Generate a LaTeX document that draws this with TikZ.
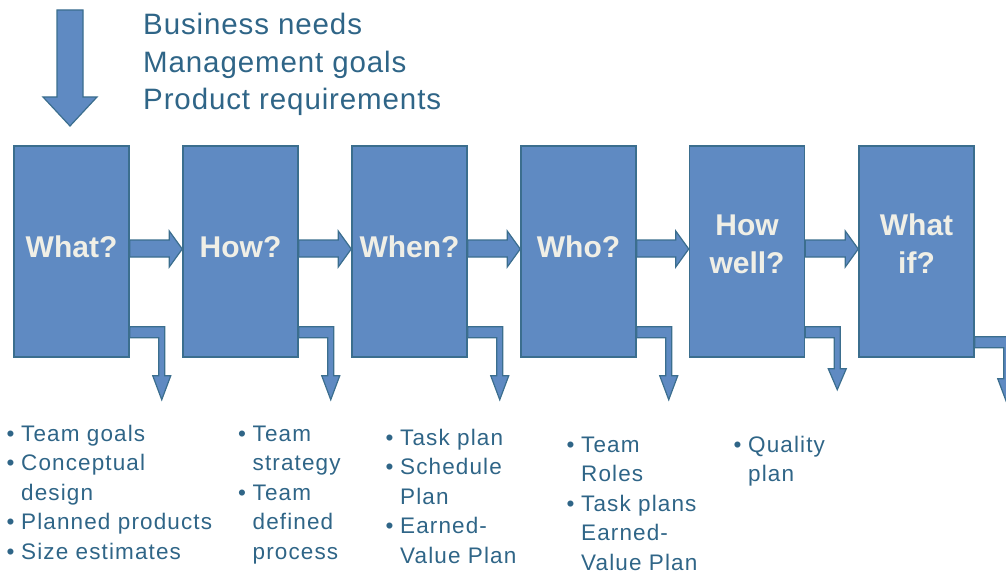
\documentclass[tikz,border=0pt]{standalone}
\usepackage{fontspec}
\setmainfont{Liberation Sans}
\newfontfamily\topfont[LetterSpace=3]{Liberation Sans}
\newfontfamily\listfont[LetterSpace=5]{Liberation Sans}
\usetikzlibrary{calc}
\definecolor{txt}{HTML}{2F6587}
\definecolor{boxfill}{HTML}{5F8AC2}
\definecolor{boxline}{HTML}{3B6E8E}
\definecolor{lbl}{HTML}{F0EFE6}
\newcommand\bul{\makebox[14.5pt][l]{•}}
\newcommand\ind{\hspace*{14.5pt}}
% block arrow from one stage to the next
\newcommand\hblockarrow[2]{%
  \filldraw[blockarrow] ($(#1.east)+(0,-11.5)$) -- ($(#2.west)+(-13,-11.5)$)
    -- ($(#2.west)+(-13,-20.5)$) -- ($(#2.west)+(0,-2.5)$)
    -- ($(#2.west)+(-13,15.5)$) -- ($(#2.west)+(-13,5.5)$)
    -- ($(#1.east)+(0,5.5)$) -- cycle;}
% bent arrow out of the lower right of a stage
\newcommand\elbowarrow[4]{%
  \filldraw[blockarrow] ($(#1.south east)+(0,#2)$) -- ($(#1.south east)+(35,#2)$)
    -- ($(#1.south east)+(35,#3)$) -- ($(#1.south east)+(41,#3)$)
    -- ($(#1.south east)+(32,#4)$) -- ($(#1.south east)+(23,#3)$)
    -- ($(#1.south east)+(29,#3)$) -- ($(#1.south east)+(29,#2+11)$)
    -- ($(#1.south east)+(0,#2+11)$) -- cycle;}
\begin{document}
\begin{tikzpicture}[x=1pt,y=-1pt,
  stage/.style={draw=boxline, fill=boxfill, line width=1.5pt,
    minimum width=115pt, minimum height=211pt, inner sep=0pt},
  stagelabel/.style={text=lbl, font=\fontsize{30}{38}\selectfont\bfseries,
    inner sep=0pt, anchor=base},
  blockarrow/.style={draw=boxline, fill=boxfill, line width=1.2pt, line join=miter},
  listtext/.style={text=txt, font=\listfont\fontsize{22.5}{29.5}\selectfont,
    inner sep=0pt, anchor=base west},
  toptext/.style={text=txt, font=\topfont\fontsize{29.5}{37.5}\selectfont,
    inner sep=0pt, anchor=base west}]
\useasboundingbox (0,0) rectangle (1006,575);
\clip (0,0) rectangle (1006,575);

% input arrow and text
\filldraw[blockarrow] (57,10) -- (83,10) -- (83,97) -- (97,97) -- (70,126)
  -- (43,97) -- (57,97) -- cycle;
\node[toptext] (inputs) at (143,35)
  {\begin{tabular}[t]{@{}l@{}}Business needs\\Management goals\\Product requirements\end{tabular}};

% stages
\node[stage] (b1) at (71.5,251.5) {};
\node[stage] (b2) at (240.5,251.5) {};
\node[stage] (b3) at (409.5,251.5) {};
\node[stage] (b4) at (578.5,251.5) {};
\node[stage] (b5) at (747,251.5) {};
\node[stage] (b6) at (916.5,251.5) {};

\node[stagelabel] (t1) at ($(b1.center)+(0,5.5)$) {What?};
\node[stagelabel] (t2) at ($(b2.center)+(0,5.5)$) {How?};
\node[stagelabel] (t3) at ($(b3.center)+(0,5.5)$) {When?};
\node[stagelabel] (t4) at ($(b4.center)+(0,5.5)$) {Who?};
\node[stagelabel] (t5) at ($(b5.center)+(0,-16.5)$)
  {\begin{tabular}[t]{@{}c@{}}How\\well?\end{tabular}};
\node[stagelabel] (t6) at ($(b6.center)+(0,-16.5)$)
  {\begin{tabular}[t]{@{}c@{}}What\\if?\end{tabular}};

% arrows between stages
\hblockarrow{b1}{b2}
\hblockarrow{b2}{b3}
\hblockarrow{b3}{b4}
\hblockarrow{b4}{b5}
\hblockarrow{b5}{b6}

% output arrows
\elbowarrow{b1}{-31}{18}{42}
\elbowarrow{b2}{-31}{18}{42}
\elbowarrow{b3}{-31}{18}{42}
\elbowarrow{b4}{-31}{18}{42}
\elbowarrow{b5}{-31}{11}{32}
\elbowarrow{b6}{-21}{21}{45}

% outputs
\node[listtext] (o1) at (6.5,441)
  {\begin{tabular}[t]{@{}l@{}}\bul Team goals\\\bul Conceptual\\\ind design\\\bul Planned products\\\bul Size estimates\end{tabular}};
\node[listtext] (o2) at (238,441)
  {\begin{tabular}[t]{@{}l@{}}\bul Team\\\ind strategy\\\bul Team\\\ind defined\\\ind process\end{tabular}};
\node[listtext] (o3) at (385.5,445)
  {\begin{tabular}[t]{@{}l@{}}\bul Task plan\\\bul Schedule\\\ind Plan\\\bul Earned-\\\ind Value Plan\end{tabular}};
\node[listtext] (o4) at (566.5,452)
  {\begin{tabular}[t]{@{}l@{}}\bul Team\\\ind Roles\\\bul Task plans\\\ind Earned-\\\ind Value Plan\end{tabular}};
\node[listtext] (o5) at (733.5,452)
  {\begin{tabular}[t]{@{}l@{}}\bul Quality\\\ind plan\end{tabular}};
\end{tikzpicture}
\end{document}
